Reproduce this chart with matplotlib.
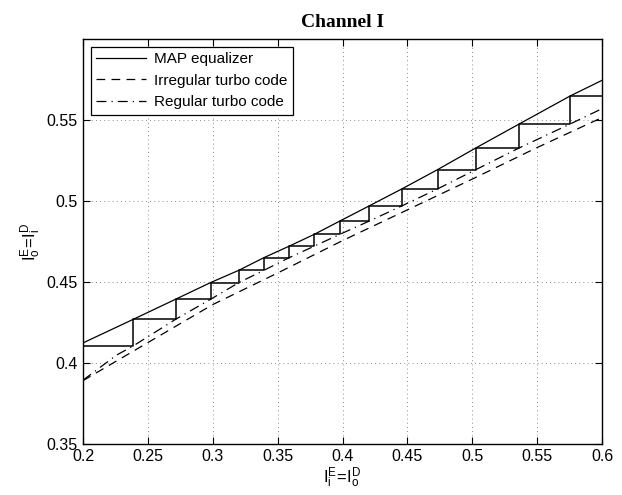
import numpy as np
import matplotlib
matplotlib.use('Agg')
import matplotlib.pyplot as plt

# MAP equalizer transfer curve
eq_x = [0.2, 0.2388, 0.2714, 0.2984, 0.3202, 0.3395, 0.359, 0.3783, 0.398,
        0.4207, 0.4459, 0.4734, 0.5029, 0.5363, 0.5756, 0.6]
eq_y = [0.4123, 0.4269, 0.4393, 0.4496, 0.4572, 0.465, 0.4721, 0.4794, 0.4876,
        0.4970, 0.5075, 0.5194, 0.5328, 0.5476, 0.5649, 0.5745]

# regular turbo code (axes swapped)
reg_x = [0.2, 0.2257, 0.2388, 0.2714, 0.2984, 0.3202, 0.3395, 0.359, 0.3783,
         0.398, 0.4207, 0.4459, 0.4734, 0.5029, 0.5363, 0.5756, 0.6]
reg_y = [0.3893, 0.4047, 0.4105, 0.4269, 0.4393, 0.4496, 0.4572, 0.465, 0.4721,
         0.4794, 0.4876, 0.4970, 0.5075, 0.5194, 0.5328, 0.5476, 0.557]

# irregular turbo code
irr_x = [0.2, 0.25, 0.3, 0.35, 0.4, 0.45, 0.5, 0.55, 0.6]
irr_y = [0.389, 0.4125, 0.436, 0.4555, 0.4755, 0.4945, 0.5135, 0.533, 0.5515]

# decoding trajectory
traj_x = [0.2388, 0.2714, 0.2984, 0.3202, 0.3395, 0.359, 0.3783, 0.398,
          0.4207, 0.4459, 0.4734, 0.5029, 0.5363, 0.5756]
traj_y = [0.4105, 0.4269, 0.4393, 0.4496, 0.4572, 0.465, 0.4721, 0.4794,
          0.4876, 0.4970, 0.5075, 0.5194, 0.5328, 0.5476, 0.5649]

plt.rcParams['font.family'] = ['Liberation Sans', 'DejaVu Sans']
plt.rcParams['mathtext.fontset'] = 'custom'
plt.rcParams['mathtext.rm'] = 'Liberation Sans'
plt.rcParams['mathtext.it'] = 'Liberation Sans'

fig = plt.figure(figsize=(6.22, 4.95), dpi=100)
ax = fig.add_axes([0.1334, 0.1034, 0.8346, 0.8178])

ax.plot(eq_x, eq_y, color='k', lw=0.9, label='MAP equalizer')
ax.plot(irr_x, irr_y, color='k', lw=0.9, ls=(0, (7, 5)), label='Irregular turbo code')
ax.plot(reg_x, reg_y, color='k', lw=0.9, ls=(0, (8, 4, 1, 4)), label='Regular turbo code')

# staircase
px, py = [0.2], [traj_y[0]]
for i, xs in enumerate(traj_x):
    px += [xs, xs]
    py += [traj_y[i], traj_y[i + 1]]
px.append(0.62)
py.append(traj_y[-1])
ax.plot(px, py, color='k', lw=1.1)

ax.set_xlim(0.2, 0.6)
ax.set_ylim(0.35, 0.6)
ax.set_xticks(np.arange(0.2, 0.61, 0.05))
ax.set_xticklabels(['0.2', '0.25', '0.3', '0.35', '0.4', '0.45', '0.5', '0.55', '0.6'])
ax.set_yticks([0.35, 0.4, 0.45, 0.5, 0.55])
ax.set_yticklabels(['0.35', '0.4', '0.45', '0.5', '0.55'])
ax.tick_params(direction='in', top=True, right=True, length=5, width=0.8,
               labelsize=11.5)
ax.tick_params(axis='x', pad=4)
ax.tick_params(axis='y', pad=4)
ax.grid(True, color='k', ls=(0, (1, 4)), lw=0.6, alpha=0.6)
for s in ax.spines.values():
    s.set_linewidth(1.0)

ax.set_xlabel(r'$\mathrm{I_i^E\!=\!I_o^D}$', fontsize=12, labelpad=1)
ax.set_ylabel(r'$\mathrm{I_o^E\!=\!I_i^D}$', fontsize=12, labelpad=2)
ax.set_title('Channel I', fontfamily='Liberation Serif', fontweight='bold',
             fontsize=14, pad=9)

leg = ax.legend(loc='upper left', fancybox=False, edgecolor='k', framealpha=1,
                fontsize=11, handlelength=3.3, borderaxespad=0.5,
                labelspacing=0.5, borderpad=0.35, handletextpad=0.5)
leg.get_frame().set_linewidth(0.9)

fig.savefig('out.png', dpi=100)
